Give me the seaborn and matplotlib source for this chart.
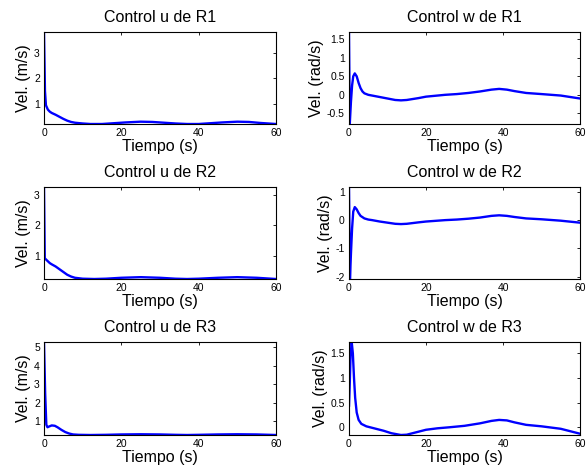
import matplotlib
matplotlib.use("Agg")
import matplotlib.pyplot as plt
from matplotlib.ticker import FuncFormatter
import pandas as pd
import seaborn as sns

# control signals (time in s)
t_u1 = [0, 0.25, 0.5, 1.0, 1.5, 2, 3, 4, 5, 6, 7, 8, 10, 12, 15, 18, 21, 25, 28, 31, 34, 37, 40, 43, 46, 50, 53, 56, 60]
u_r1 = [3.80, 1.50, 0.95, 0.78, 0.70, 0.65, 0.58, 0.50, 0.42, 0.35, 0.30, 0.27, 0.24, 0.22, 0.22, 0.25, 0.28, 0.31, 0.30, 0.27, 0.24, 0.22, 0.22, 0.25, 0.28, 0.31, 0.30, 0.26, 0.22]

t_w1 = [0, 0.2, 0.5, 0.8, 1.1, 1.5, 2.0, 2.5, 3.0, 3.5, 4, 5, 6, 8, 10, 12, 13.5, 15, 18, 20, 22, 25, 28, 31, 34, 37, 39, 41, 43, 46, 50, 55, 60]
w_r1 = [1.70, -0.79, -0.20, 0.25, 0.50, 0.58, 0.50, 0.32, 0.18, 0.09, 0.04, 0.00, -0.02, -0.06, -0.10, -0.14, -0.15, -0.14, -0.09, -0.05, -0.03, 0.00, 0.02, 0.05, 0.09, 0.14, 0.16, 0.14, 0.10, 0.05, 0.02, -0.02, -0.10]

t_u2 = [0, 0.2, 0.5, 1, 1.5, 2, 3, 4, 5, 6, 7, 8, 10, 13, 16, 20, 25, 30, 34, 37, 40, 45, 50, 55, 60]
u_r2 = [3.25, 0.92, 0.88, 0.82, 0.76, 0.72, 0.65, 0.56, 0.47, 0.38, 0.32, 0.28, 0.25, 0.24, 0.25, 0.28, 0.30, 0.28, 0.25, 0.24, 0.25, 0.28, 0.30, 0.28, 0.24]

t_w2 = [0, 0.25, 0.5, 0.8, 1.1, 1.5, 2, 2.5, 3, 4, 5, 6, 8, 10, 12, 13.5, 15, 18, 20, 25, 28, 31, 34, 37, 39, 41, 43, 46, 50, 55, 60]
w_r2 = [1.17, -2.08, -1.20, -0.30, 0.30, 0.46, 0.38, 0.25, 0.15, 0.06, 0.02, 0.00, -0.05, -0.09, -0.13, -0.14, -0.13, -0.08, -0.05, 0.00, 0.02, 0.05, 0.09, 0.15, 0.17, 0.15, 0.11, 0.06, 0.03, -0.02, -0.09]

t_u3 = [0, 0.3, 0.6, 0.9, 1.3, 2, 2.8, 3.5, 4.5, 5.5, 6.5, 7.5, 9, 12, 16, 20, 25, 30, 34, 37, 40, 45, 50, 55, 60]
u_r3 = [5.29, 2.50, 0.80, 0.66, 0.70, 0.76, 0.74, 0.66, 0.52, 0.40, 0.32, 0.27, 0.25, 0.24, 0.25, 0.27, 0.28, 0.27, 0.25, 0.24, 0.25, 0.27, 0.28, 0.27, 0.24]

t_w3 = [0, 0.2, 0.4, 0.7, 1.0, 1.3, 1.6, 2.0, 2.5, 3.2, 4.5, 5.5, 7, 9, 11, 13.5, 15, 18, 20, 23, 26, 30, 34, 37, 39, 41, 43, 46, 50, 55, 60]
w_r3 = [0.42, 0.90, 1.45, 1.73, 1.50, 1.00, 0.60, 0.30, 0.15, 0.07, 0.02, 0.00, -0.03, -0.07, -0.12, -0.156, -0.15, -0.09, -0.05, -0.02, 0.00, 0.03, 0.08, 0.13, 0.15, 0.14, 0.10, 0.05, 0.02, -0.03, -0.13]

titles = ["Control u de R1", "Control w de R1",
          "Control u de R2", "Control w de R2",
          "Control u de R3", "Control w de R3"]
ylabels = ["Vel. (m/s)", "Vel. (rad/s)"] * 3
xticks = [0, 20, 40, 60]
yticks = [[1, 2, 3], [-0.5, 0, 0.5, 1, 1.5],
          [1, 2, 3], [-2, -1, 0, 1],
          [1, 2, 3, 4, 5], [0, 0.5, 1, 1.5]]

series = [(t_u1, u_r1), (t_w1, w_r1), (t_u2, u_r2), (t_w2, w_r2), (t_u3, u_r3), (t_w3, w_r3)]

sns.set_style("white")
plt.rcParams["font.family"] = ["Liberation Sans", "DejaVu Sans"]
plt.rcParams["axes.unicode_minus"] = False
plt.rcParams["text.color"] = "black"
plt.rcParams["axes.labelcolor"] = "black"

fig = plt.figure(figsize=(5.86, 4.74), dpi=100)
W, H = 586, 474
cols = [(44, 232), (349, 231)]
rows = [(32, 124), (187, 279), (342, 435)]

for i, (t, v) in enumerate(series):
    r, c = divmod(i, 2)
    x0, w = cols[c]
    top, bot = rows[r]
    ax = fig.add_axes([x0 / W, 1 - bot / H, w / W, (bot - top) / H])
    df = pd.DataFrame({"t": t, "v": v})
    sns.lineplot(data=df, x="t", y="v", ax=ax, color="#0000ff", linewidth=1.7,
                 estimator=None, sort=True)
    ax.margins(x=0, y=0)
    ax.set_xlim(0, 60)
    ax.set_xticks(xticks)
    ax.set_yticks(yticks[i])
    ax.yaxis.set_major_formatter(FuncFormatter(lambda val, pos: "%g" % val))
    ax.tick_params(direction="in", length=2.5, width=0.6, top=True, right=True,
                   labelsize=7.5, pad=3, colors="black", labelcolor="black")
    for s in ax.spines.values():
        s.set_color("black")
        s.set_linewidth(0.8)
    ax.set_title(titles[i], fontsize=11.5, pad=7, color="black")
    ax.set_xlabel("Tiempo (s)", fontsize=11.5, labelpad=0.5, color="black")
    ax.set_ylabel(ylabels[i], fontsize=11.5, labelpad=2, color="black")

fig.savefig("out.png", dpi=100)
